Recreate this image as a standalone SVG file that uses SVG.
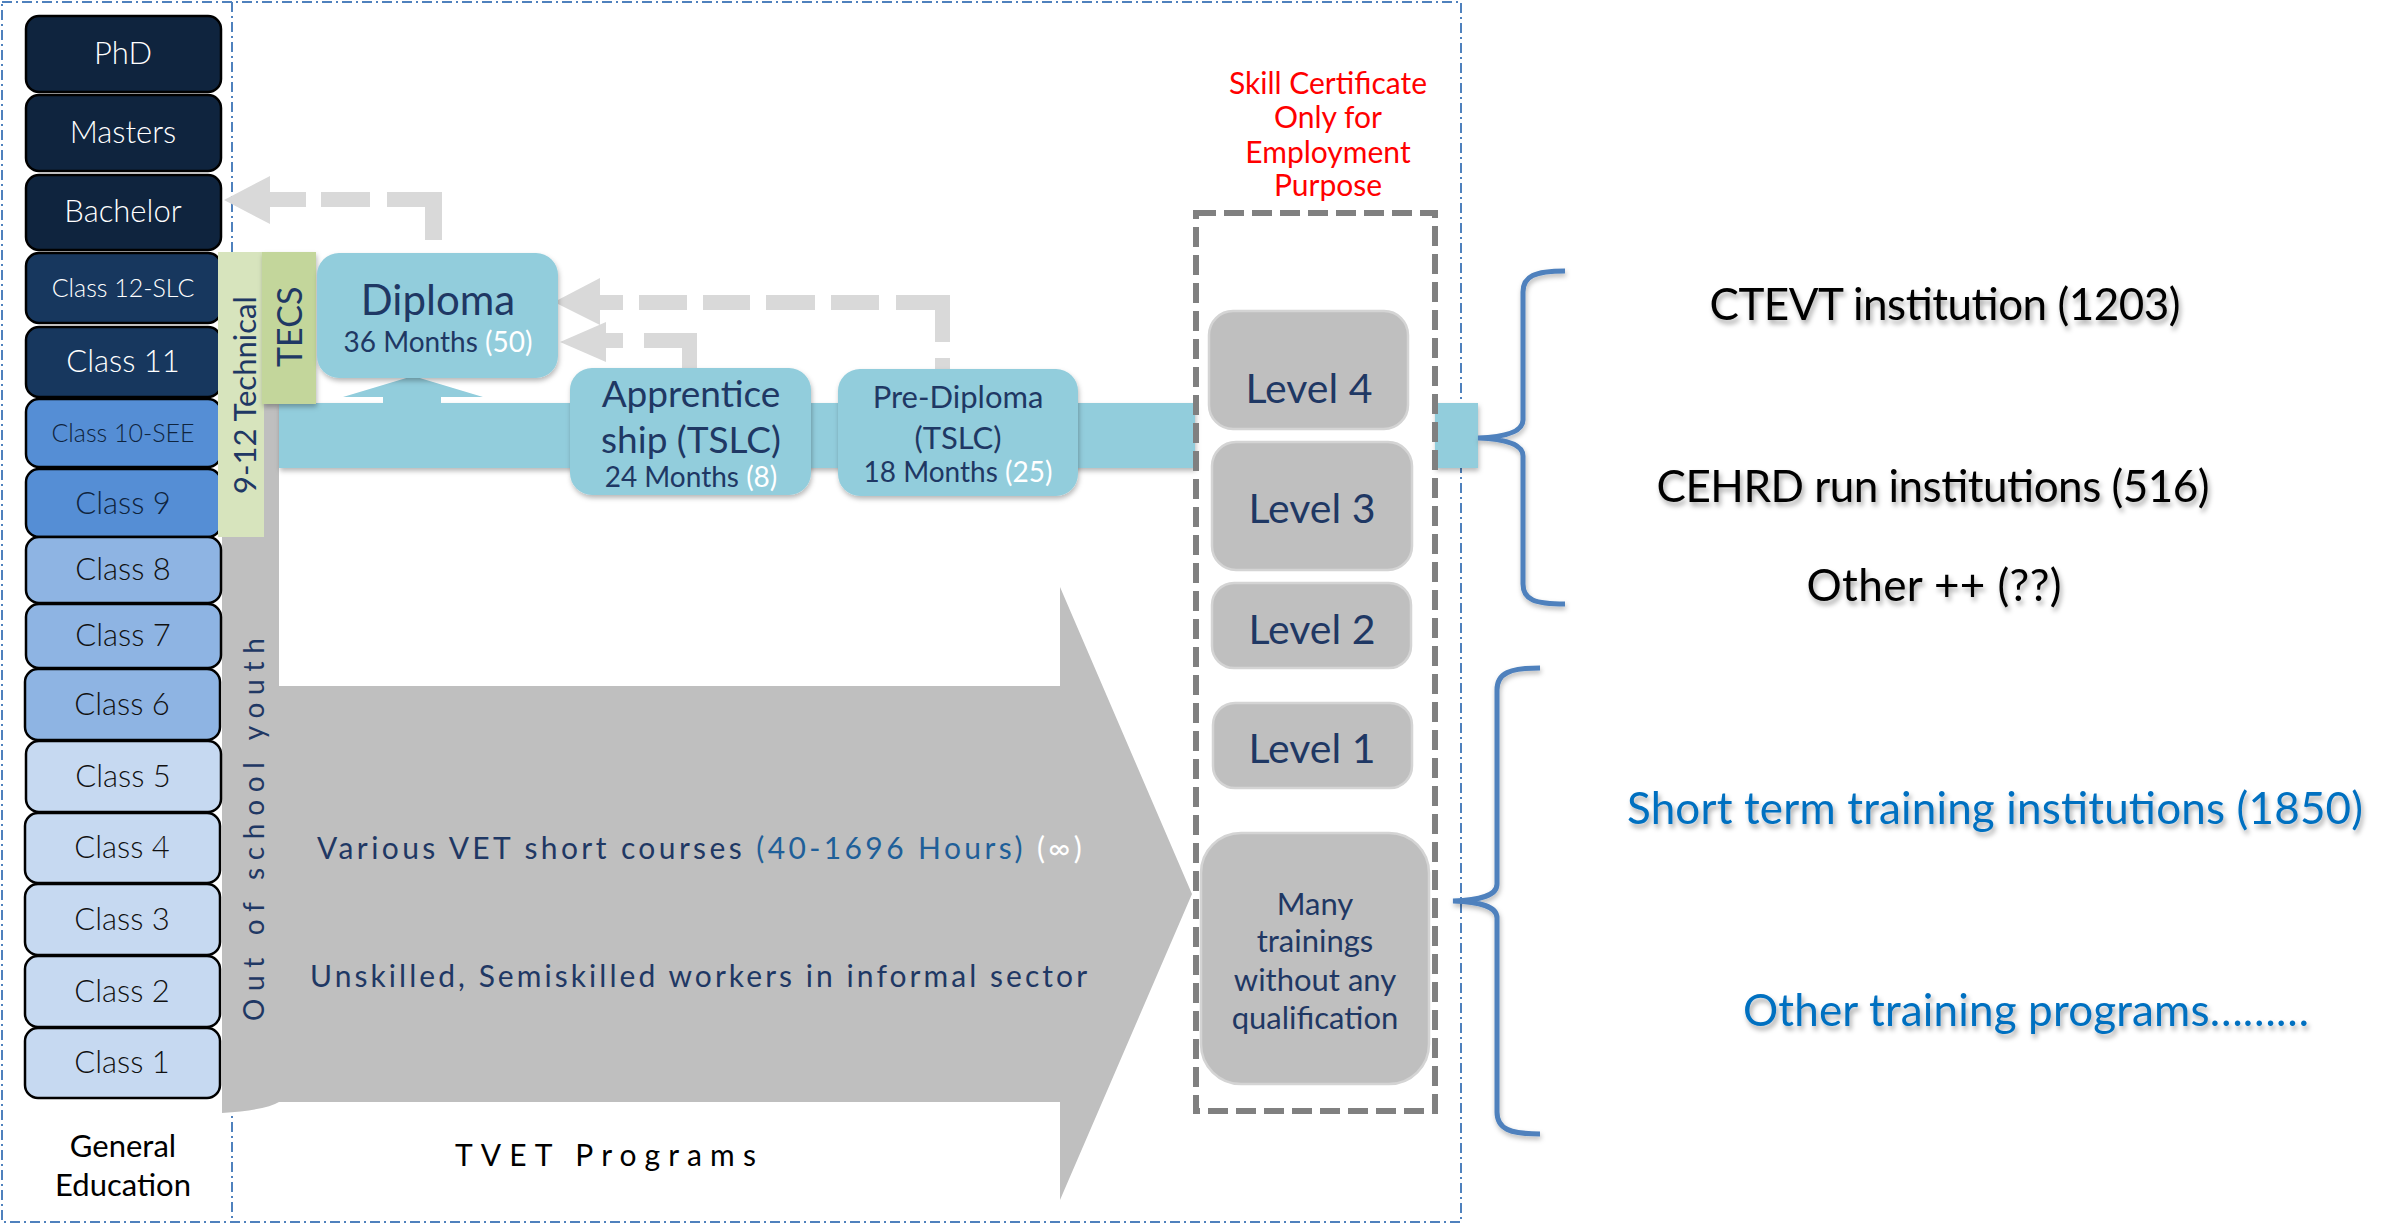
<svg xmlns="http://www.w3.org/2000/svg" width="2389" height="1225" viewBox="0 0 2389 1225">
<defs>
<filter id="sh" x="-10%" y="-10%" width="125%" height="140%"><feDropShadow dx="1" dy="3" stdDeviation="2.5" flood-color="#000" flood-opacity="0.28"/></filter>
<filter id="tsh" x="-5%" y="-20%" width="115%" height="160%"><feDropShadow dx="2" dy="4" stdDeviation="2.5" flood-color="#000" flood-opacity="0.35"/></filter>
</defs>
<style>
.frame{fill:none;stroke:#4f81bd;stroke-width:2;stroke-dasharray:10 4 2 4}
.cls{stroke:#000;stroke-width:2.5}
.t{font-family:Lato,"Open Sans",sans-serif;text-anchor:middle}
.s{font-family:Lato,"Open Sans",sans-serif}
.w{fill:#fff}
.nv{fill:#1f3864}
.blue{fill:#92cddc}
.dash{fill:#d9d9d9}
.lvl{fill:#bfbfbf;stroke:#d4d4d4;stroke-width:2.5}
.brace{fill:none;stroke:#4f81bd;stroke-width:5}
.rt{font-family:Lato,"Open Sans",sans-serif;font-size:44px;text-anchor:middle}
</style>

<g id="frame">
<rect class="frame" x="2" y="2" width="1459" height="1220"/>
<line class="frame" x1="232" y1="2" x2="232" y2="1222"/>
</g>

<g id="tvet-arrow">
<path d="M222,404 H279 V686 H1060 V587 L1192,894 L1060,1200 V1102 H279 Q266,1110 222,1113 Z" fill="#bfbfbf"/>
<text class="s" transform="translate(264,1021) rotate(-90)" font-size="28" letter-spacing="7.7" fill="#1f3864">Out of school youth</text>
<text class="s" x="317" y="859" font-size="30" letter-spacing="3.4" fill="#1f3864">Various VET short courses <tspan fill="#1f5f99">(40-1696 Hours)</tspan> <tspan fill="#fff">(∞)</tspan></text>
<text class="s" x="310" y="987" font-size="30" letter-spacing="3.05" fill="#1f3864">Unskilled, Semiskilled workers in informal sector</text>
</g>

<g id="band">
<rect class="blue" x="279" y="403" width="916" height="65" filter="url(#sh)"/>
<rect class="blue" x="1435" y="403" width="43" height="65" filter="url(#sh)"/>
<path class="blue" d="M343,397 L413,376 L483,397 L441,397 L441,404 L383,404 L383,397 Z"/>
</g>

<g id="connectors">
<g id="to-bachelor">
<polygon class="dash" points="224,200 270,176 270,224"/>
<rect class="dash" x="270" y="192" width="36" height="15"/>
<rect class="dash" x="321" y="192" width="49" height="15"/>
<rect class="dash" x="387" y="192" width="55" height="15"/>
<rect class="dash" x="425" y="192" width="17" height="48"/>
</g>
<g id="prediploma-to-diploma">
<polygon class="dash" points="554,302 600,278 600,325"/>
<rect class="dash" x="600" y="295" width="23" height="15"/>
<rect class="dash" x="639" y="295" width="48" height="15"/>
<rect class="dash" x="703" y="295" width="47" height="15"/>
<rect class="dash" x="766" y="295" width="49" height="15"/>
<rect class="dash" x="831" y="295" width="48" height="15"/>
<rect class="dash" x="896" y="295" width="54" height="15"/>
<rect class="dash" x="935" y="295" width="15" height="47"/>
<rect class="dash" x="935" y="358" width="15" height="12"/>
</g>
<g id="apprentice-to-diploma">
<polygon class="dash" points="560,342 606,322 606,362"/>
<rect class="dash" x="606" y="333" width="17" height="15"/>
<rect class="dash" x="644" y="333" width="53" height="15"/>
<rect class="dash" x="682" y="333" width="15" height="36"/>
</g>
</g>

<g id="general-education">
<g id="phd"><rect class="cls" x="26" y="16" width="195" height="76" rx="13" fill="#0f243e"/><text class="t w" x="123" y="64" font-size="31" font-weight="300">PhD</text></g>
<g id="masters"><rect class="cls" x="26" y="95" width="195" height="76" rx="13" fill="#0f243e"/><text class="t w" x="123" y="143" font-size="31" font-weight="300">Masters</text></g>
<g id="bachelor"><rect class="cls" x="26" y="175" width="195" height="75" rx="13" fill="#0f243e"/><text class="t w" x="123" y="222" font-size="31" font-weight="300">Bachelor</text></g>
<g id="class12"><rect class="cls" x="26" y="253" width="195" height="70" rx="13" fill="#17375e"/><text class="t w" x="123" y="297" font-size="25" font-weight="300">Class 12-SLC</text></g>
<g id="class11"><rect class="cls" x="26" y="327" width="195" height="70" rx="13" fill="#17375e"/><text class="t w" x="123" y="372" font-size="31" font-weight="300">Class 11</text></g>
<g id="class10"><rect class="cls" x="26" y="399" width="195" height="68" rx="13" fill="#558ed5"/><text class="t" x="123" y="442" font-size="25" font-weight="300" fill="#0f243e">Class 10-SEE</text></g>
<g id="class9"><rect class="cls" x="26" y="469" width="195" height="68" rx="13" fill="#558ed5"/><text class="t" x="123" y="514" font-size="31" font-weight="300" fill="#0f243e">Class 9</text></g>
<g id="class8"><rect class="cls" x="26" y="537" width="195" height="66" rx="13" fill="#8eb4e3"/><text class="t" x="123" y="580" font-size="31" font-weight="300" fill="#111">Class 8</text></g>
<g id="class7"><rect class="cls" x="26" y="604" width="195" height="64" rx="13" fill="#8eb4e3"/><text class="t" x="123" y="646" font-size="31" font-weight="300" fill="#111">Class 7</text></g>
<g id="class6"><rect class="cls" x="25" y="669" width="195" height="71" rx="13" fill="#8eb4e3"/><text class="t" x="122" y="715" font-size="31" font-weight="300" fill="#111">Class 6</text></g>
<g id="class5"><rect class="cls" x="26" y="741" width="195" height="71" rx="13" fill="#c6d9f1"/><text class="t" x="123" y="787" font-size="31" font-weight="300" fill="#111">Class 5</text></g>
<g id="class4"><rect class="cls" x="25" y="813" width="195" height="70" rx="13" fill="#c6d9f1"/><text class="t" x="122" y="858" font-size="31" font-weight="300" fill="#111">Class 4</text></g>
<g id="class3"><rect class="cls" x="25" y="884" width="195" height="71" rx="13" fill="#c6d9f1"/><text class="t" x="122" y="930" font-size="31" font-weight="300" fill="#111">Class 3</text></g>
<g id="class2"><rect class="cls" x="25" y="956" width="195" height="71" rx="13" fill="#c6d9f1"/><text class="t" x="122" y="1002" font-size="31" font-weight="300" fill="#111">Class 2</text></g>
<g id="class1"><rect class="cls" x="25" y="1028" width="195" height="70" rx="13" fill="#c6d9f1"/><text class="t" x="122" y="1073" font-size="31" font-weight="300" fill="#111">Class 1</text></g>
<text class="t" x="123" y="1157" font-size="31" fill="#000">General</text>
<text class="t" x="123" y="1196" font-size="31" fill="#000">Education</text>
</g>

<g id="technical-bars">
<rect x="218" y="252" width="46" height="285" fill="#d7e4bd"/>
<text class="s nv" transform="translate(256,494) rotate(-90)" font-size="31">9-12 Technical</text>
<rect x="262" y="252" width="54" height="152" fill="#c3d69b" filter="url(#sh)"/>
<text class="s nv" transform="translate(302,367) rotate(-90)" font-size="34">TECS</text>
</g>

<g id="diploma">
<rect class="blue" x="317" y="253" width="241" height="125" rx="22" filter="url(#sh)"/>
<text class="t nv" x="438" y="315" font-size="42">Diploma</text>
<text class="t nv" x="438" y="352" font-size="28">36 Months <tspan class="w">(50)</tspan></text>
</g>

<g id="apprenticeship">
<rect class="blue" x="570" y="368" width="241" height="127" rx="22" filter="url(#sh)"/>
<text class="t nv" x="691" y="407" font-size="37">Apprentice</text>
<text class="t nv" x="691" y="453" font-size="37">ship (TSLC)</text>
<text class="t nv" x="691" y="487" font-size="28">24 Months <tspan class="w">(8)</tspan></text>
</g>

<g id="prediploma">
<rect class="blue" x="838" y="369" width="240" height="127" rx="22" filter="url(#sh)"/>
<text class="t nv" x="958" y="408" font-size="31">Pre-Diploma</text>
<text class="t nv" x="958" y="449" font-size="31">(TSLC)</text>
<text class="t nv" x="958" y="482" font-size="28">18 Months <tspan class="w">(25)</tspan></text>
</g>

<g id="skill-certificate">
<text class="t" x="1328" y="94" font-size="30" fill="#ff0000">Skill Certificate</text>
<text class="t" x="1328" y="128" font-size="30" fill="#ff0000">Only for</text>
<text class="t" x="1328" y="163" font-size="30" fill="#ff0000">Employment</text>
<text class="t" x="1328" y="196" font-size="30" fill="#ff0000">Purpose</text>
<rect x="1196" y="213" width="239" height="898" fill="none" stroke="#808080" stroke-width="6" stroke-dasharray="20 8"/>
</g>

<g id="level4"><rect class="lvl" x="1209" y="311" width="199" height="118" rx="24"/><text class="t nv" x="1309" y="403" font-size="41">Level 4</text></g>
<g id="level3"><rect class="lvl" x="1212" y="442" width="200" height="128" rx="24"/><text class="t nv" x="1312" y="523" font-size="41">Level 3</text></g>
<g id="level2"><rect class="lvl" x="1212" y="583" width="199" height="85" rx="22"/><text class="t nv" x="1312" y="644" font-size="41">Level 2</text></g>
<g id="level1"><rect class="lvl" x="1213" y="703" width="199" height="85" rx="22"/><text class="t nv" x="1312" y="763" font-size="41">Level 1</text></g>
<g id="many-trainings"><rect class="lvl" x="1201" y="833" width="228" height="251" rx="40"/>
<text class="t nv" x="1315" y="915" font-size="31">Many</text>
<text class="t nv" x="1315" y="952" font-size="31">trainings</text>
<text class="t nv" x="1315" y="991" font-size="31">without any</text>
<text class="t nv" x="1315" y="1029" font-size="31">qualification</text>
</g>

<g id="braces">
<path class="brace" filter="url(#sh)" d="M1565,271 C1535,271 1523,276 1523,292 L1523,420 C1523,432 1505,437 1478,438 C1505,439 1523,444 1523,456 L1523,584 C1523,600 1535,604 1565,604"/>
<path class="brace" filter="url(#sh)" d="M1540,668 C1510,668 1497,673 1497,690 L1497,884 C1497,896 1480,900 1453,901 C1480,902 1497,906 1497,918 L1497,1112 C1497,1129 1510,1134 1540,1134"/>
</g>

<g id="institutions" filter="url(#tsh)">
<text class="rt" x="1945" y="320" fill="#000" textLength="471">CTEVT institution (1203)</text>
<text class="rt" x="1933" y="502" fill="#000" textLength="553">CEHRD run institutions (516)</text>
<text class="rt" x="1934" y="601" fill="#000" textLength="255">Other ++ (??)</text>
<text class="rt" x="1995" y="824" fill="#0070c0" textLength="736">Short term training institutions (1850)</text>
<text class="rt" x="2026" y="1026" fill="#0070c0" textLength="566">Other training programs………</text>
</g>

<g id="tvet-label">
<text class="s" x="455" y="1166" font-size="30" letter-spacing="8.1" fill="#000">TVET Programs</text>
</g>
</svg>
